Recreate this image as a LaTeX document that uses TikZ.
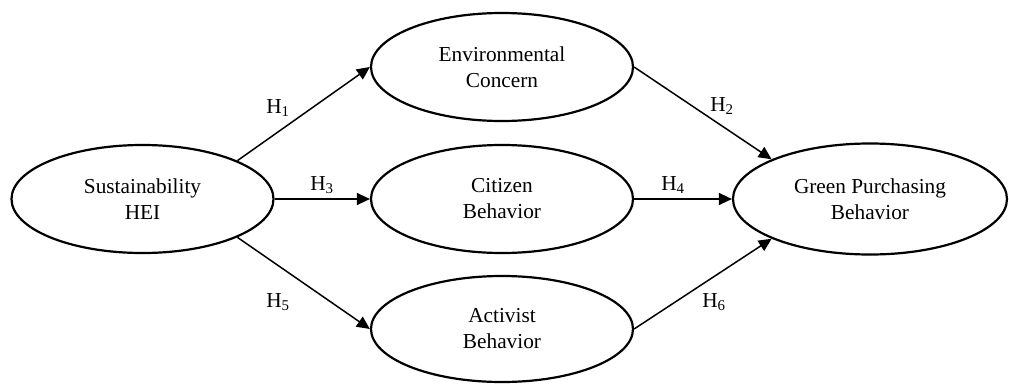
\documentclass[tikz,border=0pt]{standalone}
\usepackage{fontspec}
\setmainfont{Liberation Serif}
\usetikzlibrary{shapes.geometric,arrows.meta}
\begin{document}
\begin{tikzpicture}[x=1pt,y=-1pt,
  latent/.style={ellipse, draw, line width=2.2pt, minimum width=262pt, minimum height=108pt,
    inner sep=0pt, align=center, font=\fontsize{21.3}{26}\selectfont},
  hyp/.style={line width=1.5pt, -{Triangle[length=13pt,width=12pt]}},
  hlab/.style={font=\fontsize{21.3}{26}\selectfont, inner sep=0pt}]
\useasboundingbox (0,0) rectangle (1009,383);
\node[latent] (hei) at (142.5,199) {Sustainability\\HEI};
\node[latent] (env) at (502,67) {Environmental\\Concern};
\node[latent] (cit) at (502,199) {Citizen\\Behavior};
\node[latent, minimum height=106pt] (act) at (502,329) {Activist\\Behavior};
\node[latent, minimum width=274pt, minimum height=111pt] (gpb) at (870,199) {Green Purchasing\\Behavior};
\draw[hyp] (hei.22.6) -- (env.west);
\draw[hyp] (hei.east) -- (cit.west);
\draw[hyp] (hei.-22.6) -- (act.west);
\draw[hyp] (env.east) -- (gpb.158.3);
\draw[hyp] (cit.east) -- (gpb.west);
\draw[hyp] (act.east) -- (gpb.-158.3);
\node[hlab] (h1) at (278,108) {H\textsubscript{1}};
\node[hlab] (h2) at (722,106) {H\textsubscript{2}};
\node[hlab] (h3) at (322,185) {H\textsubscript{3}};
\node[hlab] (h4) at (673,185) {H\textsubscript{4}};
\node[hlab] (h5) at (278,302) {H\textsubscript{5}};
\node[hlab] (h6) at (714,302) {H\textsubscript{6}};
\end{tikzpicture}
\end{document}
